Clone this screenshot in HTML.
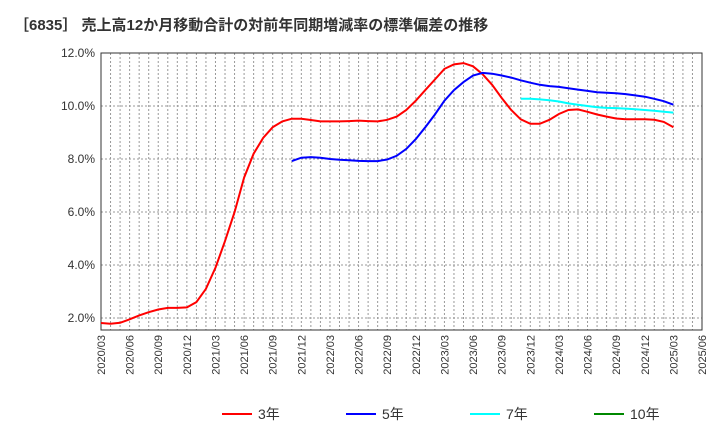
<!DOCTYPE html>
<html><head><meta charset="utf-8"><style>
body{margin:0;background:#fff;font-family:"Liberation Sans","Noto Sans CJK JP",sans-serif;}
</style></head><body>
<svg id="c" width="720" height="440" xmlns="http://www.w3.org/2000/svg">
<text x="14" y="30" font-size="15" font-weight="bold" fill="#333">［6835］ 売上高12か月移動合計の対前年同期増減率の標準偏差の推移</text>
<g id="grid"></g><g id="axes"></g><g id="series"></g><g id="legend"></g>
</svg>
<script>
const startLabel=[2020,3];
const yTicks=[2,4,6,8,10,12];
const s3=[1.81,1.78,1.82,1.95,2.1,2.22,2.32,2.38,2.38,2.4,2.6,3.1,3.9,4.9,6.0,7.3,8.2,8.8,9.2,9.42,9.52,9.52,9.47,9.42,9.42,9.42,9.43,9.45,9.43,9.42,9.48,9.6,9.85,10.2,10.6,11.0,11.4,11.57,11.62,11.5,11.2,10.8,10.3,9.85,9.5,9.33,9.33,9.48,9.7,9.85,9.87,9.78,9.68,9.6,9.53,9.5,9.5,9.5,9.48,9.4,9.2];
const s5start=20;
const s5=[7.92,8.05,8.07,8.05,8.0,7.97,7.95,7.93,7.92,7.92,7.98,8.12,8.38,8.75,9.2,9.68,10.2,10.6,10.9,11.15,11.25,11.22,11.15,11.07,10.97,10.88,10.8,10.75,10.72,10.67,10.62,10.57,10.52,10.5,10.48,10.45,10.4,10.35,10.27,10.18,10.05];
const s7start=44;
const s7=[10.27,10.27,10.25,10.22,10.17,10.1,10.05,10.0,9.95,9.93,9.92,9.9,9.88,9.85,9.82,9.78,9.75];
const L=101,R=702,T=53,B=330,months=63;
const X=m=>L+m*(R-L)/months;
const Y=v=>T+(12-v)*26.5;
const NS="http://www.w3.org/2000/svg";
function mk(tag,attrs,parent,txt){const e=document.createElementNS(NS,tag);for(const k in attrs)e.setAttribute(k,attrs[k]);if(txt!==undefined)e.textContent=txt;document.getElementById(parent).appendChild(e);return e;}
for(let m=1;m<months;m++){const e=mk('line',{x1:X(m),x2:X(m),y1:T,y2:B,stroke:'#999','stroke-dasharray':'2,2','stroke-width':1},'grid');

}
yTicks.forEach(v=>{const e=mk('line',{x1:L,x2:R,y1:Y(v),y2:Y(v),stroke:'#999','stroke-dasharray':'2,2'},'grid');


const t=mk('text',{x:L-6,y:Y(v)+4,'text-anchor':'end','font-size':12,fill:'#333'},'axes',v.toFixed(1)+'%');

});
const fr=mk('rect',{x:L,y:T,width:R-L,height:B-T,fill:'none',stroke:'#333'},'axes');


for(let m=0;m<=months;m+=3){const yr=startLabel[0]+Math.floor((startLabel[1]-1+m)/12);const mo=(startLabel[1]-1+m)%12+1;
const lab=yr+'/'+String(mo).padStart(2,'0');
const t=mk('text',{x:0,y:0,'text-anchor':'end','font-size':11,fill:'#333',transform:`translate(${X(m)+4},${B+5}) rotate(-90)`},'axes',lab);

}
function line(data,start,color,name){const d=data.map((v,i)=>(i?'L':'M')+X(start+i).toFixed(1)+','+Y(v).toFixed(1)).join('');
const p=mk('path',{d:d,fill:'none',stroke:color,'stroke-width':2},'series');

}
line(s3,0,'#f00','series-3yr');line(s5,s5start,'#00f','series-5yr');line(s7,s7start,'#0ff','series-7yr');
const leg=[['3年','#f00',222],['5年','#00f',346],['7年','#0ff',470],['10年','#080',594]];
leg.forEach(([n,c,x])=>{const g=mk('g',{},'legend');


const l=document.createElementNS(NS,'line');l.setAttribute('x1',x);l.setAttribute('x2',x+30);l.setAttribute('y1',414);l.setAttribute('y2',414);l.setAttribute('stroke',c);l.setAttribute('stroke-width',2);g.appendChild(l);
const t=document.createElementNS(NS,'text');t.setAttribute('x',x+36);t.setAttribute('y',419);t.setAttribute('font-size',14);t.setAttribute('fill','#333');t.textContent=n;g.appendChild(t);});
</script>
</body></html>
